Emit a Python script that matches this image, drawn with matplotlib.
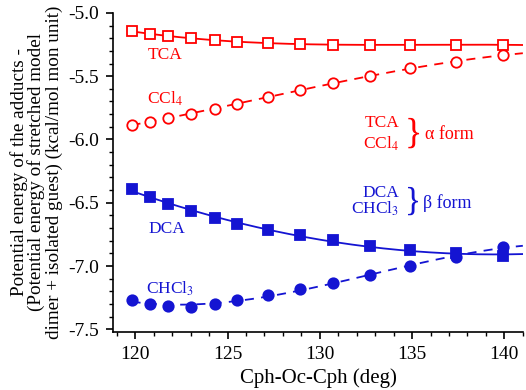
import numpy as np
import matplotlib
matplotlib.use('Agg')
import matplotlib.pyplot as plt

plt.rcParams['font.family'] = ['Liberation Serif', 'DejaVu Serif']
plt.rcParams['mathtext.fontset'] = 'stix'

# angle Cph-Oc-Cph (deg)
angle = [119.8, 120.8, 121.8, 123.0, 124.3, 125.5, 127.2, 128.9, 130.7,
         132.7, 134.9, 137.4, 139.9]

# potential energy difference (kcal/mol mon unit)
tca = [-5.147, -5.165, -5.181, -5.199, -5.218, -5.228, -5.239, -5.246,
       -5.252, -5.252, -5.252, -5.252, -5.252]
ccl4 = [-5.887, -5.861, -5.829, -5.795, -5.756, -5.717, -5.667, -5.612,
        -5.557, -5.496, -5.439, -5.386, -5.333]
dca = [-6.388, -6.451, -6.512, -6.567, -6.620, -6.669, -6.714, -6.756,
       -6.798, -6.843, -6.874, -6.898, -6.919]
chcl3 = [-7.265, -7.297, -7.317, -7.320, -7.302, -7.270, -7.228, -7.183,
         -7.131, -7.071, -7.002, -6.929, -6.848]

RED = '#FF0000'
BLUE = '#1414D2'
XMIN, XMAX = 118.8, 141.0

fig = plt.figure(figsize=(5.26, 3.9), dpi=100)
ax = fig.add_axes([0.215, 0.149, 0.779, 0.818])

xs = np.linspace(angle[0], XMAX, 200)
series = [
    (tca, RED, 's', 'none', '-', 3),
    (ccl4, RED, 'o', 'none', '--', 3),
    (dca, BLUE, 's', BLUE, '-', 2),
    (chcl3, BLUE, 'o', BLUE, '--', 3),
]
for ys, col, mk, fc, ls, deg in series:
    # smooth fitted curve through the points
    coef = np.polyfit(angle, ys, deg)
    ax.plot(xs, np.polyval(coef, xs), color=col, lw=1.3, ls=ls,
            dashes=(5, 4) if ls == '--' else (None, None))
    ax.plot(angle, ys, ls='none', marker=mk, ms=6.5 if mk == 's' else 7.5,
            mfc=fc if fc != 'none' else 'white', mec=col, mew=1.3, color=col)

ax.set_xlim(XMIN, XMAX)
ax.set_ylim(-7.52, -5.0)
ax.set_xticks([120, 125, 130, 135, 140])
ax.set_xticks(np.arange(119, 142, 1), minor=True)
ax.set_yticks([-5.0, -5.5, -6.0, -6.5, -7.0, -7.5])
ax.set_yticks(np.arange(-7.5, -4.99, 0.1), minor=True)
ax.set_yticklabels(['-5.0', '-5.5', '-6.0', '-6.5', '-7.0', '-7.5'])
ax.spines['top'].set_visible(False)
ax.spines['right'].set_visible(False)
for s in ('left', 'bottom'):
    ax.spines[s].set_linewidth(1.2)
ax.tick_params(which='major', direction='out', length=5, width=1.2,
               labelsize=14, pad=5)
ax.tick_params(which='minor', direction='out', length=3, width=1.0)

ax.set_xlabel('Cph-Oc-Cph (deg)', fontsize=15, labelpad=4)
ax.set_ylabel('Potential energy of the adducts -\n'
              '(Potential energy of stretched model\n'
              'dimer + isolated guest) (kcal/mol mon unit)',
              fontsize=13.8, linespacing=1.0, labelpad=4)

fs = 12.5
ax.text(121.6, -5.33, 'TCA', color=RED, fontsize=fs, ha='center', va='center')
ax.text(121.6, -5.68, r'CCl$_4$', color=RED, fontsize=fs, ha='center', va='center')
ax.text(121.7, -6.71, 'DCA', color=BLUE, fontsize=fs, ha='center', va='center')
ax.text(121.9, -7.18, r'CHCl$_3$', color=BLUE, fontsize=fs, ha='center', va='center')

ax.text(134.3, -5.866, 'TCA', color=RED, fontsize=fs, ha='right', va='center')
ax.text(134.3, -6.035, r'CCl$_4$', color=RED, fontsize=fs, ha='right', va='center')
ax.text(134.6, -5.955, '}', color=RED, fontsize=26, ha='left', va='center')
ax.text(135.7, -5.96, 'α form', color=RED, fontsize=13, ha='left', va='center')

ax.text(134.3, -6.42, 'DCA', color=BLUE, fontsize=fs, ha='right', va='center')
ax.text(134.3, -6.545, r'CHCl$_3$', color=BLUE, fontsize=fs, ha='right', va='center')
ax.text(134.6, -6.49, '}', color=BLUE, fontsize=24, ha='left', va='center')
ax.text(135.6, -6.50, 'β form', color=BLUE, fontsize=13, ha='left', va='center')

fig.savefig('out.png', dpi=100)
